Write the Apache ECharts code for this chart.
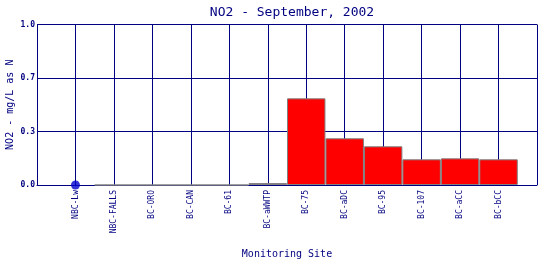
<!DOCTYPE html>
<html><head><meta charset="utf-8">
<script src="https://cdn.jsdelivr.net/npm/echarts@6/dist/echarts.min.js"></script>
<style>html,body{margin:0;padding:0;background:#fff}#c{width:540px;height:260px}</style>
</head><body><div id="c"></div>
<script>
var categories = ['NBC-Lw','NBC-FALLS','BC-ORO','BC-CAN','BC-61','BC-aWWTP','BC-75','BC-aDC','BC-95','BC-107','BC-aCC','BC-bCC'];
var barValues = [null, 0, 0, 0, 0, 0.012, 0.540, 0.291, 0.241, 0.160, 0.166, 0.160];
var pointValues = [0, null, null, null, null, null, null, null, null, null, null, null];
var yTicks = [0, 1/3, 2/3, 1];

var axisCats = [''].concat(categories).concat(['']);
var barData = [null].concat(barValues).concat([null]);
var ptData = [null].concat(pointValues).concat([null]);
var navy = '#000080';
var mono = 'DejaVu Sans Mono';

var chart = echarts.init(document.getElementById('c'), null, {renderer:'canvas'});
chart.setOption({
  animation: false,
  title: {
    text: 'NO2 - September, 2002', left: 287, top: 1, textAlign: 'center',
    textStyle: {fontFamily: mono, fontSize: 13, fontWeight: 'normal', color: navy}
  },
  grid: {left: 37, right: 3, top: 24.5, bottom: 75, containLabel: false, outerBoundsMode: 'none'},
  xAxis: {
    type: 'category', data: axisCats, boundaryGap: false,
    name: 'Monitoring Site', nameLocation: 'middle', nameGap: 64, nameMoveOverlap: false,
    nameTextStyle: {fontFamily: mono, fontSize: 10, color: navy},
    axisLine: {show: true, lineStyle: {color: navy, width: 1}},
    axisTick: {show: false},
    axisLabel: {rotate: 90, interval: 0, fontFamily: mono, fontSize: 8, color: navy, margin: 5},
    splitLine: {show: true, interval: 0, lineStyle: {color: navy, width: 1}}
  },
  yAxis: {
    type: 'value', min: 0, max: 1, interval: 1/3,
    name: 'NO2 - mg/L as N', nameLocation: 'middle', nameGap: 22, nameMoveOverlap: false,
    nameTextStyle: {fontFamily: mono, fontSize: 10, color: navy},
    axisLine: {show: true, lineStyle: {color: navy, width: 1}},
    axisTick: {show: false},
    axisLabel: {fontFamily: mono, fontSize: 8, fontWeight: 'bold', color: navy, margin: 2,
      formatter: function(v){ return v.toFixed(1); }},
    splitLine: {show: true, lineStyle: {color: navy, width: 1}}
  },
  series: [
    {type: 'bar', data: barData, barWidth: '100%', barGap: '0%',
     itemStyle: {color: '#ff0000', borderColor: '#808080', borderWidth: 1}},
    {type: 'scatter', data: ptData, symbol: 'circle', symbolSize: 9,
     itemStyle: {color: '#0000cc'}, z: 5}
  ]
});
</script></body></html>
